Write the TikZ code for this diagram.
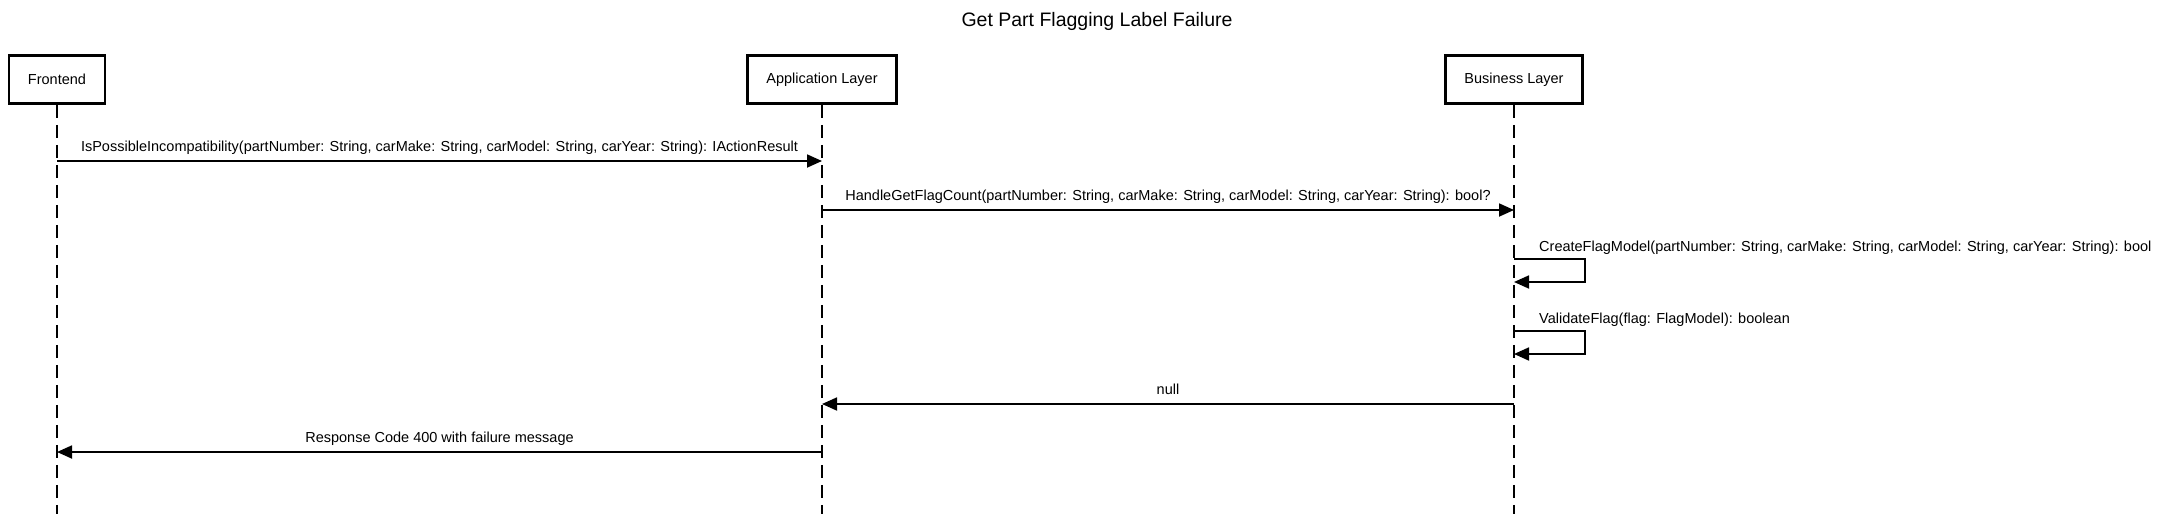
\documentclass[tikz,border=0pt]{standalone}
\usepackage{fontspec}
\setmainfont{Liberation Sans}
\usetikzlibrary{arrows.meta}

\begin{document}
\begin{tikzpicture}[
    x=1pt, y=-1pt,
    % Участники: прямоугольник с толстой рамкой
    actor/.style={draw, line width=2.7pt, minimum height=48pt, inner xsep=19pt, font=\fontsize{14.5}{17}\selectfont},
    % Линия жизни (пунктир)
    lifeline/.style={line width=1.3pt, dash pattern=on 13pt off 7pt},
    % Сообщение со сплошной стрелкой
    msg/.style={line width=1.8pt, -{Triangle[length=15pt, width=13pt]}},
    % Подпись над стрелкой
    lbl/.style={anchor=base, yshift=9.5pt, inner sep=0pt, font=\fontsize{14.5}{17}\selectfont},
    % Подпись вызова на себя
    selflbl/.style={anchor=base west, xshift=25pt, yshift=7.5pt, inner sep=0pt, font=\fontsize{14.5}{17}\selectfont}
]
    \useasboundingbox (0,0) rectangle (2159,514);

    % Заголовок
    \node[anchor=base, font=\fontsize{19.5}{23}\selectfont] (title) at (1097,27) {Get Part Flagging Label Failure};

    % Участники
    \node[actor] (fe)  at (57,79.5)   {Frontend};
    \node[actor] (app) at (822,79.5)  {Application Layer};
    \node[actor] (bl)  at (1514,79.5) {Business Layer};

    % Низ линий жизни
    \coordinate (bot) at (0,514);
    \draw[lifeline] (fe.south)  -- (fe |- bot);
    \draw[lifeline] (app.south) -- (app |- bot);
    \draw[lifeline] (bl.south)  -- (bl |- bot);

    % Уровни сообщений
    \coordinate (m1) at (0,161);
    \coordinate (m2) at (0,210);
    \coordinate (c1) at (0,259);
    \coordinate (c1e) at (0,282);
    \coordinate (v1) at (0,331);
    \coordinate (v1e) at (0,354);
    \coordinate (r1) at (0,404);
    \coordinate (r2) at (0,452);

    % Вызовы
    \draw[msg] (fe |- m1) -- node[lbl] {IsPossibleIncompatibility(partNumber: String, carMake: String, carModel: String, carYear: String): IActionResult} (app |- m1);
    \draw[msg] (app |- m2) -- node[lbl] {HandleGetFlagCount(partNumber: String, carMake: String, carModel: String, carYear: String): bool?} (bl |- m2);

    % Вызовы на себя
    \node[selflbl] (c1l) at (bl |- c1) {CreateFlagModel(partNumber: String, carMake: String, carModel: String, carYear: String): bool};
    \draw[msg] (bl |- c1) -- ++(71,0) |- (bl |- c1e);
    \node[selflbl] (v1l) at (bl |- v1) {ValidateFlag(flag: FlagModel): boolean};
    \draw[msg] (bl |- v1) -- ++(71,0) |- (bl |- v1e);

    % Ответы
    \draw[msg] (bl |- r1) -- node[lbl] {null} (app |- r1);
    \draw[msg] (app |- r2) -- node[lbl] {Response Code 400 with failure message} (fe |- r2);

\end{tikzpicture}
\end{document}
